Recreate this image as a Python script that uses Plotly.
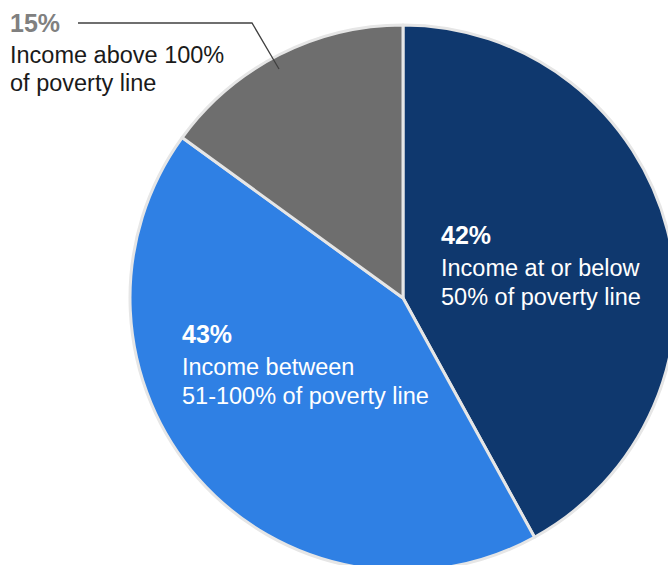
import plotly.graph_objects as go

labels = ["Income at or below 50% of poverty line",
          "Income between 51-100% of poverty line",
          "Income above 100% of poverty line"]
values = [42, 43, 15]
pct_labels = ["42%", "43%", "15%"]
desc_lines = [["Income at or below", "50% of poverty line"],
              ["Income between", "51-100% of poverty line"],
              ["Income above 100%", "of poverty line"]]
colors = ["#0F386E", "#2F80E4", "#6E6E6E"]

W, H = 680, 580
CX, CY, R = 403, 298, 273


def px(x):
    return x / W


def py(y):
    return 1 - y / H


fig = go.Figure(go.Pie(
    labels=labels, values=values, sort=False, direction="clockwise", rotation=0,
    marker=dict(colors=colors, line=dict(color="#E6E6E6", width=3)),
    textinfo="none", hoverinfo="label+percent", showlegend=False,
    domain=dict(x=[px(CX - R), px(CX + R)], y=[py(CY + R), py(CY - R)]),
))

FONT = "Liberation Sans, Arial, sans-serif"
# label blocks: (x_left, y of pct, y line1, y line2, pct color, text color)
blocks = [
    (440, 235, 268, 297, "white", "white"),
    (181, 334, 367, 396, "white", "white"),
    (9, 23, 55, 83, "#808080", "#1A1A1A"),
]
ann = []
for i, (x0, yp, y1, y2, pc, tc) in enumerate(blocks):
    ann.append(dict(x=px(x0), y=py(yp), xref="paper", yref="paper", xanchor="left",
                    yanchor="middle", showarrow=False, text="<b>%s</b>" % pct_labels[i],
                    borderpad=0, font=dict(family=FONT, size=25, color=pc)))
    for yy, line in zip((y1, y2), desc_lines[i]):
        ann.append(dict(x=px(x0), y=py(yy), xref="paper", yref="paper", xanchor="left",
                        yanchor="middle", showarrow=False, text=line, borderpad=0,
                        font=dict(family=FONT, size=23.5, color=tc)))

fig.update_layout(
    width=W, height=H, margin=dict(l=0, r=0, t=0, b=0),
    paper_bgcolor="white", plot_bgcolor="white",
    annotations=ann,
    shapes=[dict(type="path", xref="paper", yref="paper",
                 path="M %f %f L %f %f L %f %f" % (px(78), py(23), px(252), py(23), px(279), py(69)),
                 line=dict(color="#404040", width=1.3))],
)

fig.write_html("out.html")
